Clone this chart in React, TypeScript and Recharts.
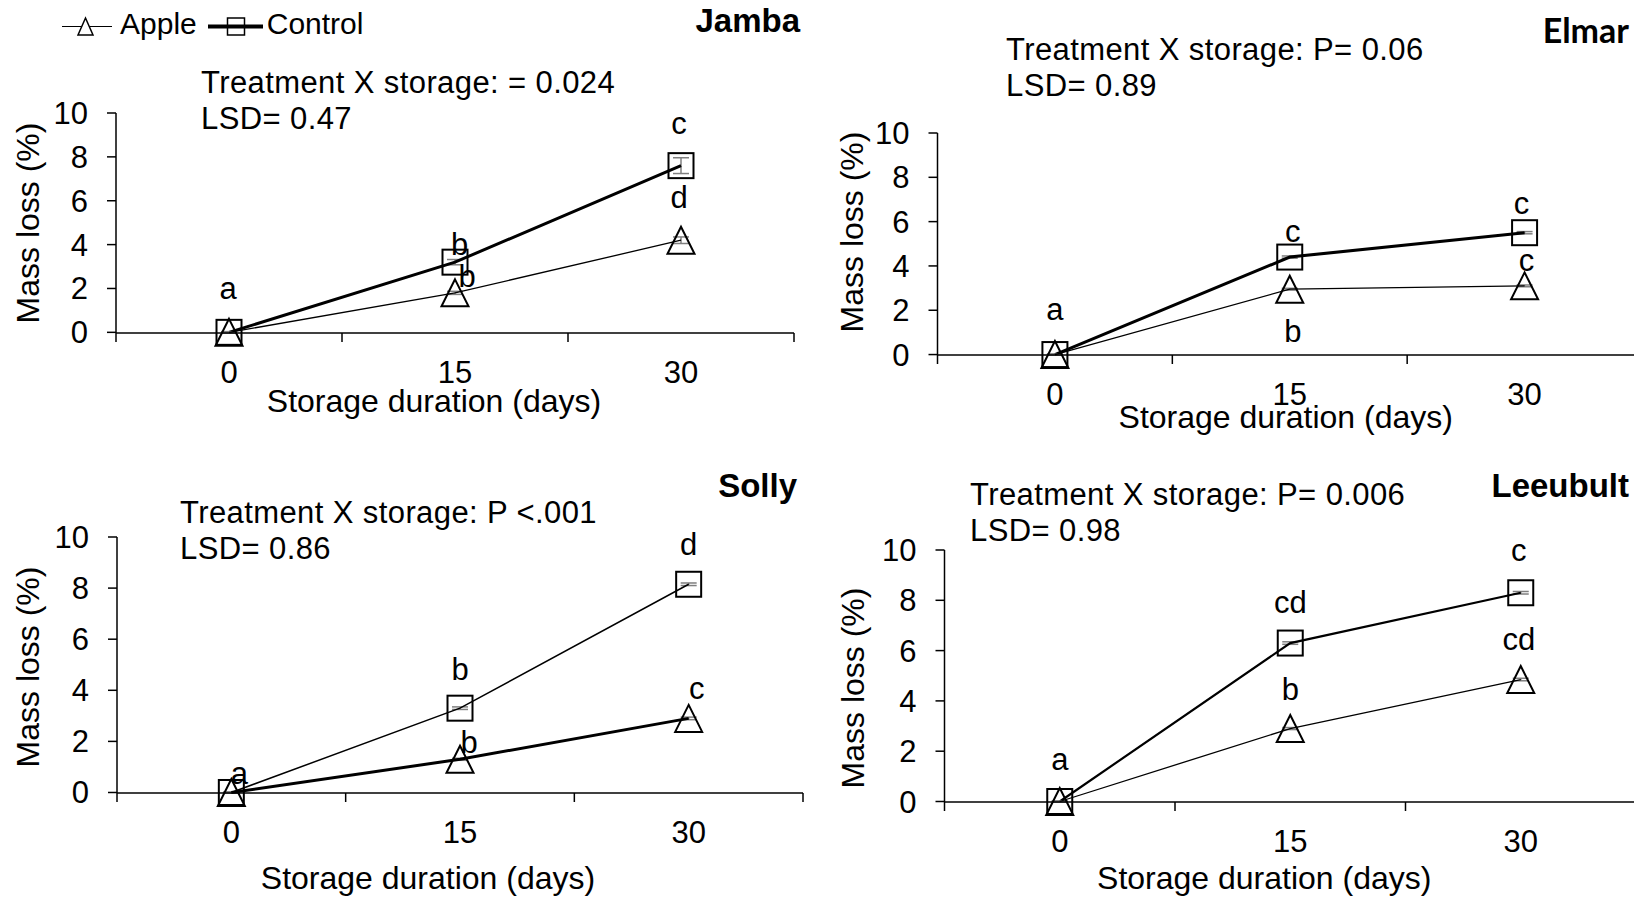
import React from 'react';
import { LineChart, Line, XAxis, YAxis, ErrorBar, LabelList, Legend } from 'recharts';

const FONT = '"Liberation Sans", Arial, sans-serif';

// shared axes
const days = [0, 15, 30];
const xBounds = [-7.5, 7.5, 22.5, 37.5];
const yTicks = [0, 2, 4, 6, 8, 10];

// Jamba
const jambaApple = [0, 1.8, 4.2];
const jambaControl = [0, 3.2, 7.6];
const jambaAppleErr = [0.03, 0.07, 0.15];
const jambaControlErr = [0.03, 0.12, 0.36];
const jambaAppleLetters = ['a', 'b', 'd'];
const jambaControlLetters = ['', 'b', 'c'];

// Elmar
const elmarApple = [0, 2.95, 3.1];
const elmarControl = [0, 4.4, 5.5];
const elmarAppleErr = [0.02, 0.04, 0.04];
const elmarControlErr = [0.02, 0.05, 0.05];
const elmarAppleLetters = ['a', 'b', 'c'];
const elmarControlLetters = ['', 'c', 'c'];

// Solly
const sollyApple = [0, 1.3, 2.9];
const sollyControl = [0, 3.3, 8.15];
const sollyAppleErr = [0.02, 0.04, 0.05];
const sollyControlErr = [0.02, 0.05, 0.05];
const sollyAppleLetters = ['a', 'b', 'c'];
const sollyControlLetters = ['', 'b', 'd'];

// Leeubult
const leeuApple = [0, 2.9, 4.85];
const leeuControl = [0, 6.3, 8.3];
const leeuAppleErr = [0.02, 0.04, 0.05];
const leeuControlErr = [0.02, 0.05, 0.05];
const leeuAppleLetters = ['a', 'b', 'cd'];
const leeuControlLetters = ['', 'cd', 'c'];

const makeRows = (apple: number[], control: number[], aErr: number[], cErr: number[], aLet: string[], cLet: string[]) =>
  days.map((d, i) => ({
    day: d,
    apple: apple[i],
    control: control[i],
    appleErr: aErr[i],
    controlErr: cErr[i],
    appleLetter: aLet[i],
    controlLetter: cLet[i],
  }));

type Panel = {
  title: string;
  titleFont?: string;
  titleX: number;
  titleY: number;
  stat: string;
  lsd: string;
  statX: number;
  statY: number;
  rows: any[];
  box: { left: number; top: number; width: number; height: number };
  margin: { top: number; right: number; bottom: number };
  yAxisWidth: number;
  yLabelGap: number;
  yLabelDy: number;
  xLabelDx: number;
  xLabelDy: number;
  appleWidth: number;
  controlWidth: number;
  appleOffsets: number[][];
  controlOffsets: number[][];
  legend?: boolean;
};

const panels: Panel[] = [
  {
    title: 'Jamba', titleX: 800, titleY: 32,
    stat: 'Treatment X storage: = 0.024', lsd: 'LSD= 0.47', statX: 201, statY: 93,
    rows: makeRows(jambaApple, jambaControl, jambaAppleErr, jambaControlErr, jambaAppleLetters, jambaControlLetters),
    box: { left: 0, top: 0, width: 817, height: 450 },
    margin: { top: 113, right: 23, bottom: 27 },
    yAxisWidth: 116, yLabelGap: 88, yLabelDy: 0, xLabelDx: -21, xLabelDy: 79,
    appleWidth: 1.3, controlWidth: 3,
    appleOffsets: [[-1, -33], [12, -6], [-2, -32]],
    controlOffsets: [[0, 0], [4.5, -7], [-2, -31.5]],
    legend: true,
  },
  {
    title: 'Elmar', titleFont: 'Lato, "Open Sans", sans-serif', titleX: 1629, titleY: 43,
    stat: 'Treatment X storage: P= 0.06', lsd: 'LSD= 0.89', statX: 1006, statY: 60,
    rows: makeRows(elmarApple, elmarControl, elmarAppleErr, elmarControlErr, elmarAppleLetters, elmarControlLetters),
    box: { left: 817, top: 0, width: 830, height: 450 },
    margin: { top: 133, right: 5, bottom: 5 },
    yAxisWidth: 120.5, yLabelGap: 86, yLabelDy: -12, xLabelDx: -4, xLabelDy: 73,
    appleWidth: 1.3, controlWidth: 3,
    appleOffsets: [[0, -34.5], [3, 53], [2, -14.5]],
    controlOffsets: [[0, 0], [3, -15.5], [-3, -18.5]],
  },
  {
    title: 'Solly', titleX: 797, titleY: 497,
    stat: 'Treatment X storage: P <.001', lsd: 'LSD= 0.86', statX: 180, statY: 523,
    rows: makeRows(sollyApple, sollyControl, sollyAppleErr, sollyControlErr, sollyAppleLetters, sollyControlLetters),
    box: { left: 0, top: 450, width: 817, height: 451 },
    margin: { top: 87, right: 14, bottom: 18 },
    yAxisWidth: 117, yLabelGap: 89, yLabelDy: 2, xLabelDx: -32, xLabelDy: 96,
    appleWidth: 3, controlWidth: 1.5,
    appleOffsets: [[8, -8.5], [9, -6], [8, -19.5]],
    controlOffsets: [[0, 0], [0, -28.5], [0, -29.5]],
  },
  {
    title: 'Leeubult', titleX: 1629, titleY: 497,
    stat: 'Treatment X storage: P= 0.006', lsd: 'LSD= 0.98', statX: 970, statY: 505,
    rows: makeRows(leeuApple, leeuControl, leeuAppleErr, leeuControlErr, leeuAppleLetters, leeuControlLetters),
    box: { left: 817, top: 450, width: 830, height: 451 },
    margin: { top: 100, right: 11, bottom: 9 },
    yAxisWidth: 127.5, yLabelGap: 92, yLabelDy: 12, xLabelDx: -26, xLabelDy: 87,
    appleWidth: 1.3, controlWidth: 2.2,
    appleOffsets: [[0, -31], [0, -28.5], [-2, -30]],
    controlOffsets: [[0, 0], [0, -30.5], [-2, -32]],
  },
];

const Square = (p: any) => {
  if (p.cx == null || p.cy == null) return <g key={p.index} />;
  return <rect key={p.index} x={p.cx - 12.5} y={p.cy - 12.5} width={25} height={25} fill="none" stroke="#000" strokeWidth={2} />;
};

const Triangle = (p: any) => {
  if (p.cx == null || p.cy == null) return <g key={p.index} />;
  const { cx, cy } = p;
  return (
    <path key={p.index} d={`M${cx},${cy - 13.5} L${cx + 13.5},${cy + 13.5} L${cx - 13.5},${cy + 13.5} Z`}
      fill="none" stroke="#000" strokeWidth={2} strokeLinejoin="miter" />
  );
};

const XTick = (props: any) => {
  const { x, y, payload } = props;
  const v = payload.value;
  if (days.includes(v)) {
    return <text x={x} y={y + 41} textAnchor="middle" fontSize={31} fontFamily={FONT} fill="#000">{v}</text>;
  }
  return <line x1={x} x2={x} y1={y - 9} y2={y} stroke="#000" strokeWidth={1.5} />;
};

const letterContent = (offsets: number[][]) => (props: any) => {
  const x = props.x ?? props.viewBox?.x;
  const y = props.y ?? props.viewBox?.y;
  const i = props.index ?? 0;
  if (!props.value || x == null) return null;
  const [dx, dy] = offsets[i] || [0, -30];
  return (
    <text x={x + dx} y={y + dy} textAnchor="middle" fontSize={31} fontFamily={FONT} fill="#000">
      {props.value}
    </text>
  );
};

const yLabel = (gap: number, dy: number) => (props: any) => {
  const vb = props.viewBox || {};
  const cx = vb.x + vb.width - gap;
  const cy = vb.y + vb.height / 2 + dy;
  return (
    <text x={cx} y={cy} transform={`rotate(-90 ${cx} ${cy})`} textAnchor="middle" dominantBaseline="central"
      fontSize={32} fontFamily={FONT} fill="#000">Mass loss (%)</text>
  );
};

const xLabel = (dx: number, dy: number) => (props: any) => {
  const vb = props.viewBox || {};
  return (
    <text x={vb.x + vb.width / 2 + dx} y={vb.y + dy} textAnchor="middle" fontSize={32} fontFamily={FONT} fill="#000">
      Storage duration (days)
    </text>
  );
};

const LegendContent = (props: any) => {
  const items = [...(props.payload || [])].sort((a: any, b: any) => String(a.value).localeCompare(String(b.value)));
  return (
    <div style={{ display: 'flex', alignItems: 'center', height: 30, fontFamily: FONT, fontSize: 30, lineHeight: '30px', color: '#000', whiteSpace: 'nowrap' }}>
      {items.map((it: any, i: number) => (
        <React.Fragment key={it.value}>
          {it.dataKey === 'apple' ? (
            <svg width={50} height={30} style={{ marginLeft: i === 0 ? 0 : 11 }}>
              <line x1={0} x2={50} y1={17.5} y2={17.5} stroke="#000" strokeWidth={1.2} />
              <path d="M23.5,9 L31,26 L16,26 Z" fill="#fff" stroke="#000" strokeWidth={1.5} />
            </svg>
          ) : (
            <svg width={55} height={30} style={{ marginLeft: i === 0 ? 0 : 11 }}>
              <line x1={0} x2={55} y1={17.5} y2={17.5} stroke="#000" strokeWidth={4} />
              <rect x={19.5} y={9} width={17} height={17} fill="none" stroke="#000" strokeWidth={1.5} />
            </svg>
          )}
          <span style={{ marginLeft: it.dataKey === 'apple' ? 8 : 4 }}>{it.value}</span>
        </React.Fragment>
      ))}
    </div>
  );
};

const PanelChart = ({ p }: { p: Panel }) => (
  <div style={{ position: 'absolute', left: p.box.left, top: p.box.top }}>
    <LineChart width={p.box.width} height={p.box.height} data={p.rows}
      margin={{ top: p.margin.top, right: p.margin.right, bottom: p.margin.bottom, left: 0 }}>
      <XAxis type="number" dataKey="day" domain={[xBounds[0], xBounds[xBounds.length - 1]]}
        ticks={[...xBounds, ...days].sort((a, b) => a - b)} interval={0} height={90}
        tickLine={false} tickSize={9} tickMargin={0} tick={<XTick />}
        axisLine={{ stroke: '#000', strokeWidth: 1.5 }} label={{ content: xLabel(p.xLabelDx, p.xLabelDy) } as any} />
      <YAxis type="number" domain={[0, 10]} ticks={yTicks} interval={0} width={p.yAxisWidth}
        tickSize={9} tickMargin={19} tick={{ fontSize: 31, fontFamily: FONT, fill: '#000' }}
        tickLine={{ stroke: '#000', strokeWidth: 1.5 }} axisLine={{ stroke: '#000', strokeWidth: 1.5 }}
        label={{ content: yLabel(p.yLabelGap, p.yLabelDy) } as any} />
      {p.legend && (
        <Legend layout="horizontal" verticalAlign="middle" align="center"
          wrapperStyle={{ top: 9, left: 62, width: 360, height: 30 }} content={<LegendContent />} />
      )}
      <Line type="linear" dataKey="control" name="Control" stroke="#000" strokeWidth={p.controlWidth}
        dot={(d: any) => <Square {...d} key={`c${d.index}`} />} activeDot={false} isAnimationActive={false}>
        <ErrorBar dataKey="controlErr" width={8} stroke="#7f7f7f" strokeWidth={1.5} direction="y" isAnimationActive={false} />
        <LabelList dataKey="controlLetter" content={letterContent(p.controlOffsets)} />
      </Line>
      <Line type="linear" dataKey="apple" name="Apple" stroke="#000" strokeWidth={p.appleWidth}
        dot={(d: any) => <Triangle {...d} key={`a${d.index}`} />} activeDot={false} isAnimationActive={false}>
        <ErrorBar dataKey="appleErr" width={8} stroke="#7f7f7f" strokeWidth={1.5} direction="y" isAnimationActive={false} />
        <LabelList dataKey="appleLetter" content={letterContent(p.appleOffsets)} />
      </Line>
    </LineChart>
  </div>
);

export default function App() {
  return (
    <div style={{ position: 'absolute', left: 0, top: 0, width: 1634, height: 901, overflow: 'hidden', background: '#fff' }}>
      {panels.map((p) => <PanelChart key={p.title} p={p} />)}
      <svg width={1634} height={901} style={{ position: 'absolute', left: 0, top: 0, pointerEvents: 'none' }}>
        {panels.map((p) => (
          <g key={p.title}>
            <text x={p.titleX} y={p.titleY} textAnchor="end" fontSize={p.titleFont ? 34 : 33} fontWeight="bold"
              fontFamily={p.titleFont || FONT} fill="#000">{p.title}</text>
            <text x={p.statX} y={p.statY} fontSize={31} letterSpacing={0.4} fontFamily={FONT} fill="#000">{p.stat}</text>
            <text x={p.statX} y={p.statY + 36} fontSize={31} letterSpacing={0.4} fontFamily={FONT} fill="#000">{p.lsd}</text>
          </g>
        ))}
      </svg>
    </div>
  );
}
